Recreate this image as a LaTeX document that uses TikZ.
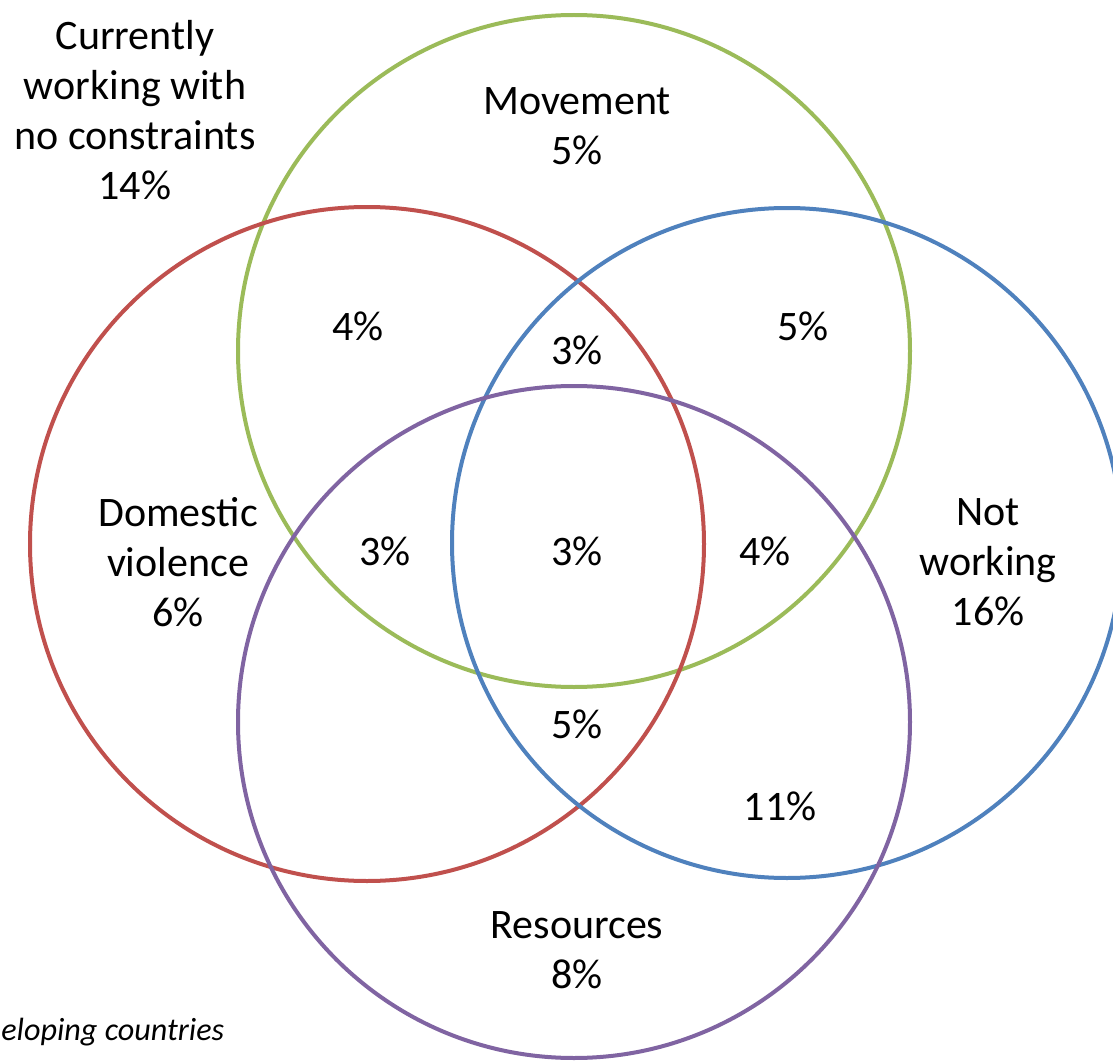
\documentclass[tikz,border=0pt]{standalone}
\usepackage{fontspec}
\setmainfont{Carlito}
\usepackage{xcolor}
\usepackage{tikz}
\definecolor{ringgreen}{RGB}{155,187,89}
\definecolor{ringred}{RGB}{192,80,77}
\definecolor{ringblue}{RGB}{79,129,189}
\definecolor{ringpurple}{RGB}{128,100,162}

\begin{document}
\begin{tikzpicture}[x=0.02cm, y=-0.02cm]
    \tikzstyle{ring} = [draw, line width=0.08cm]
    \tikzstyle{txt} = [align=center, inner sep=0pt,
        font=\fontsize{23.9}{28.45}\selectfont]
    \tikzstyle{note} = [anchor=west, inner sep=0pt,
        font=\fontsize{18.3}{22}\selectfont\itshape]

    \useasboundingbox (0,0) rectangle (1113,1061);

    \begin{scope}
    \clip (0,0) rectangle (1113,1061);
    \path [ring, ringgreen] (574,351) circle (336);
    \path [ring, ringred] (367,544) circle (337);
    \path [ring, ringblue] (787,543) circle (335);
    \path [ring, ringpurple] (574,722) circle (336);
    \end{scope}

    \node [txt] (free) at (135,110) {Currently\\working with\\no constraints\\14\%};
    \node [txt] (movement) at (577,126) {Movement\\5\%};
    \node [txt] (domestic) at (178,562) {Domestic\\violence\\6\%};
    \node [txt] (notworking) at (988,562) {Not\\working\\16\%};
    \node [txt] (resources) at (577,950) {Resources\\8\%};

    \node [txt] (movdom) at (358,326) {4\%};
    \node [txt] (movdomnot) at (577,350) {3\%};
    \node [txt] (movnot) at (803,326) {5\%};
    \node [txt] (movdomres) at (385,551) {3\%};
    \node [txt] (all) at (577,551) {3\%};
    \node [txt] (movnotres) at (765,551) {4\%};
    \node [txt] (domnotres) at (577,724) {5\%};
    \node [txt] (notres) at (780,806) {11\%};

    \node [note] (source) at (1,1032) {eloping countries};
\end{tikzpicture}
\end{document}
